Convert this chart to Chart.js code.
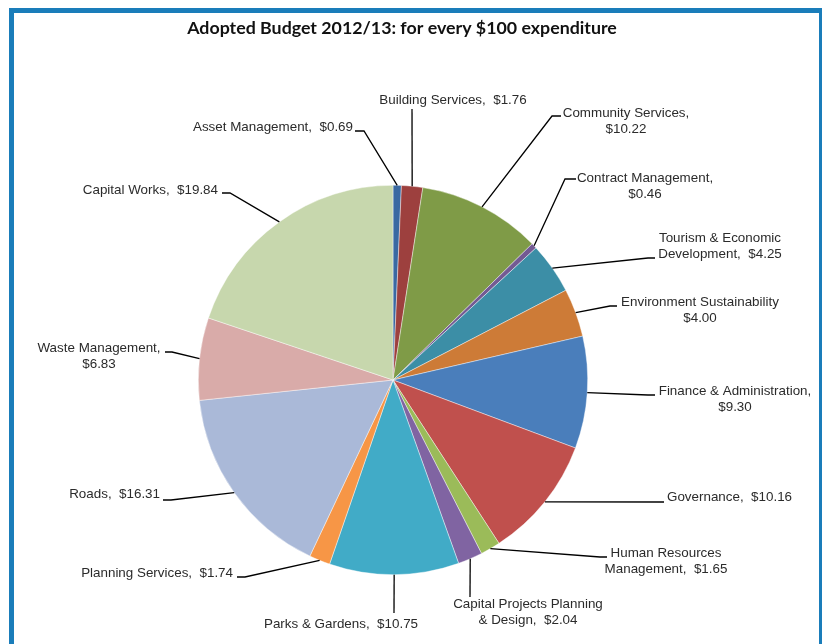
<!DOCTYPE html>
<html><head><meta charset="utf-8">
<script src="https://cdn.jsdelivr.net/npm/chart.js@4.4.1/dist/chart.umd.min.js"></script>
<style>
html,body{margin:0;padding:0;background:#fff;width:822px;height:644px;overflow:hidden}
#wrap{position:absolute;left:0;top:0;width:822px;height:644px}
#frame{position:absolute;left:9px;top:8px;width:805px;height:700px;border:5px solid #1a7dba;border-bottom:none;pointer-events:none;box-sizing:content-box}
</style></head><body>
<div id="wrap"><canvas id="c" width="822" height="644"></canvas></div>
<div id="frame"></div>
<script>
const chartTitle = 'Adopted Budget 2012/13: for every $100 expenditure';
const categories = [
  'Asset Management', 'Building Services', 'Community Services', 'Contract Management',
  'Tourism & Economic Development', 'Environment Sustainability', 'Finance & Administration',
  'Governance', 'Human Resources Management', 'Capital Projects Planning & Design',
  'Parks & Gardens', 'Planning Services', 'Roads', 'Waste Management', 'Capital Works'
];
const values = [0.69, 1.76, 10.22, 0.46, 4.25, 4.00, 9.30, 10.16, 1.65, 2.04, 10.75, 1.74, 16.31, 6.83, 19.84];
const colors = [
  '#3a69a2', '#9d403e', '#7f9b47', '#735a93', '#3c8ea6', '#cd7b37', '#4a7ebb',
  '#c0504d', '#9bbb59', '#8064a2', '#41abc7', '#f79646', '#aab9d8', '#d9aba9', '#c7d7ad'
];

// label placement (text anchor, alignment, leader-line bend points from the label side)
const labelLayout = [
  {x:353, y:127, align:'right',  fmt:'{c},  {v}', path:[[355,131],[364,131]]},
  {x:453, y:100, align:'center', fmt:'{c},  {v}', path:[[412,109]]},
  {x:626, y:113, align:'center', fmt:'{c},\n{v}', path:[[561,116],[552,116]]},
  {x:645, y:178, align:'center', fmt:'{c},\n{v}', path:[[576,179],[565,179]]},
  {x:720, y:238, align:'center', fmt:'{c},  {v}', brk:'Economic', path:[[655,258],[648,258]]},
  {x:700, y:302, align:'center', fmt:'{c}\n{v}', path:[[617,306],[610,306]]},
  {x:735, y:391, align:'center', fmt:'{c},\n{v}', path:[[655,395],[648,395]]},
  {x:667, y:497, align:'left',   fmt:'{c},  {v}', path:[[664,502]]},
  {x:666, y:553, align:'center', fmt:'{c},  {v}', brk:'Resources', path:[[607,557],[600,557]]},
  {x:528, y:604, align:'center', fmt:'{c},  {v}', brk:'Planning', path:[[470,597]]},
  {x:341, y:624, align:'center', fmt:'{c},  {v}', path:[[394,613]]},
  {x:233, y:573, align:'right',  fmt:'{c},  {v}', path:[[237,577],[245,577]]},
  {x:160, y:494, align:'right',  fmt:'{c},  {v}', path:[[163,500],[171,500]]},
  {x:99,  y:348, align:'center', fmt:'{c},\n{v}', path:[[165,352],[172,352]]},
  {x:218, y:190, align:'right',  fmt:'{c},  {v}', path:[[222,193],[230,193]]}
];

function labelText(i) {
  const l = labelLayout[i];
  let t = l.fmt.replace('{c}', categories[i]).replace('{v}', '$' + values[i].toFixed(2));
  if (l.brk) t = t.replace(l.brk + ' ', l.brk + '\n');
  return t.split('\n');
}

const leaderPlugin = {
  id: 'leaderLabels',
  afterDraw(chart) {
    const ctx = chart.ctx;
    ctx.save();
    // title
    ctx.fillStyle = '#111';
    ctx.font = 'bold 17.8px Lato, "Open Sans", sans-serif';
    ctx.textAlign = 'center';
    ctx.textBaseline = 'middle';
    ctx.fillText(chartTitle, 402, 28);

    const meta = chart.getDatasetMeta(0);
    meta.data.forEach((arc, i) => {
      const p = arc.getProps(['x','y','startAngle','endAngle','outerRadius'], true);
      const mid = (p.startAngle + p.endAngle) / 2;
      const ax = p.x + Math.cos(mid) * p.outerRadius;
      const ay = p.y + Math.sin(mid) * p.outerRadius;
      const l = labelLayout[i];
      ctx.beginPath();
      ctx.strokeStyle = '#000';
      ctx.lineWidth = 1.3;
      ctx.moveTo(l.path[0][0], l.path[0][1]);
      for (let k = 1; k < l.path.length; k++) ctx.lineTo(l.path[k][0], l.path[k][1]);
      ctx.lineTo(ax, ay);
      ctx.stroke();

      ctx.fillStyle = '#2b2b2b';
      ctx.font = '13.4px "Liberation Sans", Arial, sans-serif';
      ctx.textAlign = l.align;
      ctx.textBaseline = 'middle';
      labelText(i).forEach((line, k) => ctx.fillText(line, l.x, l.y + k * 16));
    });
    ctx.restore();
  }
};

new Chart(document.getElementById('c'), {
  type: 'pie',
  data: {
    labels: categories,
    datasets: [{
      data: values,
      backgroundColor: colors,
      borderColor: 'rgba(255,255,255,0.7)',
      borderWidth: 0.6
    }]
  },
  options: {
    responsive: false,
    devicePixelRatio: 1,
    animation: false,
    layout: { padding: { left: 198, right: 234, top: 185, bottom: 69 } },
    plugins: {
      legend: { display: false },
      tooltip: { enabled: false },
      title: { display: false }
    }
  },
  plugins: [leaderPlugin]
});
</script>
</body></html>
